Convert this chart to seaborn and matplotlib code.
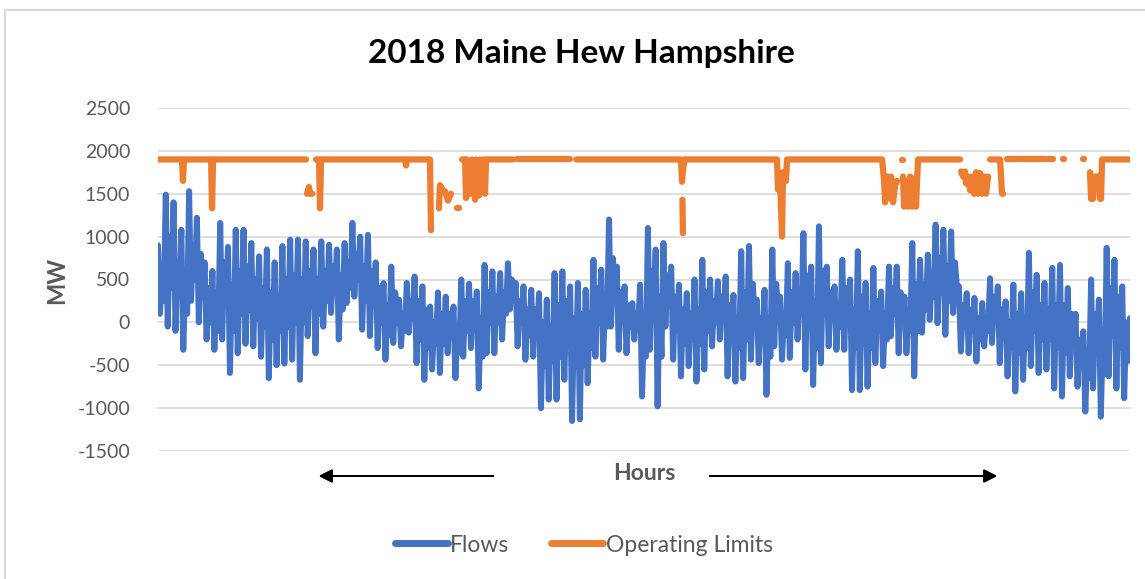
import numpy as np
import pandas as pd
import matplotlib
matplotlib.use("Agg")
import matplotlib.pyplot as plt
from matplotlib.lines import Line2D
from matplotlib.patches import Rectangle
import seaborn as sns

# hourly flows (MW), roughly every 17 hours of the year:
# each group of four = local peak, local trough, two in-between swings
flows = [
    900, 100, 600, 250, 1490, -50, 1000, 400, 1400, -100, 700, 300, 1080, -320, 500, 100,
    1530, 250, 900, 500, 1220, 0, 800, 300, 700, -200, 400, 0, 600, -320, 350, -100,
    1160, -200, 700, 200, 880, -590, 450, -100, 1080, -360, 600, 100, 1080, -250, 650, 150,
    925, -280, 500, 50, 770, -400, 400, -50, 850, -650, 350, -200, 700, -500, 300, -100,
    890, -480, 500, -50, 965, -435, 550, 0,

    965, -670, 500, 0, 945, -160, 600, 200, 850, -360, 500, 100, 945, -50, 600, 250,
    905, 110, 650, 350, 850, -200, 550, 150, 925, 225, 700, 400, 1160, 300, 800, 500,
    1000, -85, 650, 250, 1020, -160, 600, 200, 700, -300, 400, 0, 460, -435, 200, -150,
    650, -240, 350, 0, 265, -280, 100, -100, 460, -120, 250, 50, 535, -475, 250, -200,
    420, -670, 150, -300, 185, -550, 0, -250,

    350, -590, 100, -250, 300, -360, 100, -150, 185, -650, -50, -350, 500, -400, 250, -100,
    450, -300, 250, -50, 360, -770, 50, -400, 670, -360, 350, 0, 595, -360, 300, 0,
    575, -200, 350, 100, 690, 150, 500, 300, 460, -280, 250, 0, 420, -435, 150, -150,
    380, -400, 150, -150, 340, -1000, 0, -500, 265, -900, -50, -450, 575, -900, 200, -400,
    595, -670, 250, -250, 420, -1150, 50, -500,

    460, -1130, 100, -500, 380, -710, 100, -300, 730, -400, 400, 0, 615, -435, 300, -50,
    1200, -50, 750, 300, 650, -320, 350, 50, 420, -360, 200, -50, 225, -200, 100, -50,
    440, -865, 50, -400, 1100, -320, 600, 150, 850, -980, 300, -400, 925, -50, 550, 200,
    650, -435, 300, -50, 440, -630, 150, -250, 340, -510, 100, -200, 500, -690, 150, -250,
    730, -550, 350, -100, 500, -280, 250, 0,

    480, -200, 300, 50, 535, -630, 200, -200, 320, -690, 50, -300, 830, -650, 350, -200,
    890, -435, 450, 0, 265, -475, 50, -200, 380, -845, 50, -400, 850, -280, 450, 100,
    300, -435, 100, -150, 690, -415, 350, 0, 575, -200, 350, 100, 1040, -550, 550, 0,
    650, -730, 250, -300, 1120, -475, 600, 100, 650, -280, 350, 50, 420, -320, 200, -50,
    730, -320, 400, 50, 500, -790, 150, -300,

    830, -790, 300, -250, 460, -750, 100, -300, 635, -475, 250, -100, 360, -510, 100, -200,
    650, -160, 400, 100, 650, -360, 350, 0, 300, -360, 100, -100, 925, -630, 450, -100,
    730, -120, 450, 150, 790, 30, 550, 300, 1140, -10, 750, 350, 1080, -145, 650, 250,
    1060, 110, 700, 400, 420, -340, 200, -50, 340, -360, 150, -100, 285, -455, 50, -200,
    225, -280, 50, -100, 515, -240, 300, 50,

    420, -475, 150, -150, 245, -630, 0, -300, 440, -805, 100, -350, 340, -670, 50, -300,
    810, -510, 350, -100, 555, -590, 200, -200, 460, -550, 150, -200, 635, -770, 200, -300,
    670, -865, 200, -350, 400, -630, 100, -250, 100, -750, -200, -450, -105, -1040, -350, -650,
    500, -770, 100, -350, 265, -1100, -100, -600, 870, -630, 400, -150, 730, -770, 300, -300,
    420, -885, 0, -450, 50,
]

# operating limit breakpoints (hour, MW); nan = no data (gap in line)
nan = np.nan
limit_hours = [
    0, 216, 225, 234, 478, 487, 496, 1334, 1338,
    1343, 1360, 1370, 1390, 1400,
    1424, 1451, 1460, 1469, 2226, 2235, 2244, 2451, 2460, 2470,
    2532, 2541, 2559, 2570,
    2586, 2613, 2640, 2650,
    2694, 2712, 2720,
    2740, 2767, 2776, 2785, 2812, 2830, 2857, 2866, 2893, 2902, 2920, 2929, 2947, 2956, 3200, 3210,
    3235, 3713, 3740,
    3770, 4713, 4722, 4731, 4745, 4750,
    4726, 4730, 4735,
    4760, 5578, 5587, 5605, 5623, 5632, 5659, 5668,
    6525, 6543, 6552, 6570, 6579, 6597, 6606, 6624, 6642, 6660, 6670,
    6700, 6712, 6713,
    6714, 6723, 6741, 6759, 6777, 6795, 6813, 6831, 6840, 6849, 7228, 7232,
    7237, 7255, 7273, 7282, 7300, 7318, 7336, 7354, 7372, 7390, 7408, 7426, 7444, 7462, 7480, 7490,
    7498, 7588, 7606, 7615, 7620,
    7651, 7768, 7775,
    7786, 7993, 8000,
    8021, 8066, 8070,
    8156, 8166, 8170,
    8336, 8346, 8350,
    8399, 8408, 8426, 8435, 8480, 8489, 8498, 8507, 8759,
]
limit_mw = [
    1900, 1900, 1650, 1900, 1900, 1330, 1900, 1900, nan,
    1500, 1580, 1500, 1500, nan,
    1900, 1900, 1330, 1900, 1900, 1830, 1900, 1900, 1075, nan,
    1330, 1600, 1560, nan,
    1530, 1420, 1500, nan,
    1330, 1330, nan,
    1900, 1900, 1450, 1900, 1500, 1900, 1430, 1900, 1480, 1900, 1550, 1900, 1500, 1900, 1900, nan,
    1900, 1900, nan,
    1900, 1900, 1640, 1780, 1900, nan,
    1430, 1040, nan,
    1900, 1900, 1550, 1700, 1000, 1750, 1650, 1900,
    1900, 1650, 1400, 1700, 1450, 1450, 1700, 1400, 1600, 1650, nan,
    1890, 1890, nan,
    1700, 1350, 1650, 1350, 1700, 1350, 1680, 1350, 1650, 1900, 1900, nan,
    1760, 1700, 1760, 1620, 1700, 1540, 1700, 1500, 1750, 1500, 1740, 1500, 1700, 1500, 1700, nan,
    1900, 1900, 1500, 1500, nan,
    1900, 1900, nan,
    1900, 1900, nan,
    1900, 1900, nan,
    1900, 1900, nan,
    1900, 1900, nan,
    1750, 1440, 1440, 1700, 1700, 1440, 1440, 1900, 1900,
]

BLUE = "#4472C4"
ORANGE = "#ED7D31"
GREY = "#595959"

sns.set_style("white")
plt.rcParams["font.family"] = ["Lato", "DejaVu Sans"]
plt.rcParams["axes.unicode_minus"] = False

W, H = 1145, 579
fig = plt.figure(figsize=(W / 100, H / 100), dpi=100)
ax = fig.add_axes([158 / W, 1 - 451 / H, (1130 - 158) / W, (451 - 108) / H])

flow_df = pd.DataFrame({"hour": np.linspace(0, 8759, len(flows)), "mw": flows})
lim_df = pd.DataFrame({"hour": limit_hours, "mw": limit_mw})
lim_df["seg"] = lim_df["mw"].isna().cumsum()
lim_df = lim_df.dropna()

sns.lineplot(data=flow_df, x="hour", y="mw", ax=ax, color=BLUE, linewidth=4.3,
             estimator=None, sort=False, solid_joinstyle="round", solid_capstyle="round")
sns.lineplot(data=lim_df, x="hour", y="mw", units="seg", ax=ax, color=ORANGE, linewidth=4.5,
             estimator=None, sort=False, solid_joinstyle="round", solid_capstyle="round")

ax.set_xlim(0, 8759)
ax.set_ylim(-1500, 2500)
ax.set_yticks(range(-1500, 2501, 500))
ax.set_xticks([])
ax.grid(axis="y", color="#d9d9d9", lw=1.2)
ax.set_axisbelow(True)
for s in ax.spines.values():
    s.set_visible(False)
ax.tick_params(axis="y", length=0, labelsize=14, labelcolor=GREY, pad=20)
ax.set_xlabel("")
ax.set_ylabel("")
if ax.get_legend():
    ax.get_legend().remove()

# chart frame
fig.patches.append(Rectangle((5 / W, -0.05), 1.1, 1 - 10 / H + 0.05, transform=fig.transFigure,
                             fill=False, ec="#d9d9d9", lw=1.5))

fig.text(581 / W, 1 - 54 / H, "2018 Maine Hew Hampshire", ha="center", va="center",
         fontsize=24, fontweight="bold", color="black")
fig.text(57 / W, 1 - 280 / H, "MW", ha="center", va="center", rotation=90,
         fontsize=17, fontweight="bold", color=GREY)
fig.text(644 / W, 1 - 473 / H, "Hours", ha="center", va="center",
         fontsize=16.5, fontweight="bold", color=GREY)

arrow = dict(arrowstyle="-|>", color="black", lw=1.3, mutation_scale=20)
ay = 1 - 476 / H
fig.add_artist(plt.annotate("", xy=(316 / W, ay), xytext=(496 / W, ay),
                            xycoords="figure fraction", arrowprops=arrow))
fig.add_artist(plt.annotate("", xy=(1000 / W, ay), xytext=(707 / W, ay),
                            xycoords="figure fraction", arrowprops=arrow))

handles = [Line2D([], [], color=BLUE, lw=5, solid_capstyle="round"),
           Line2D([], [], color=ORANGE, lw=5, solid_capstyle="round")]
fig.legend(handles, ["Flows", "Operating Limits"], loc="center", ncol=2,
           bbox_to_anchor=(584 / W, 1 - 545 / H), frameon=False, fontsize=16.5,
           labelcolor=GREY, handlelength=2.3, handletextpad=0.1, columnspacing=1.8)

fig.savefig("out.png", dpi=100)
